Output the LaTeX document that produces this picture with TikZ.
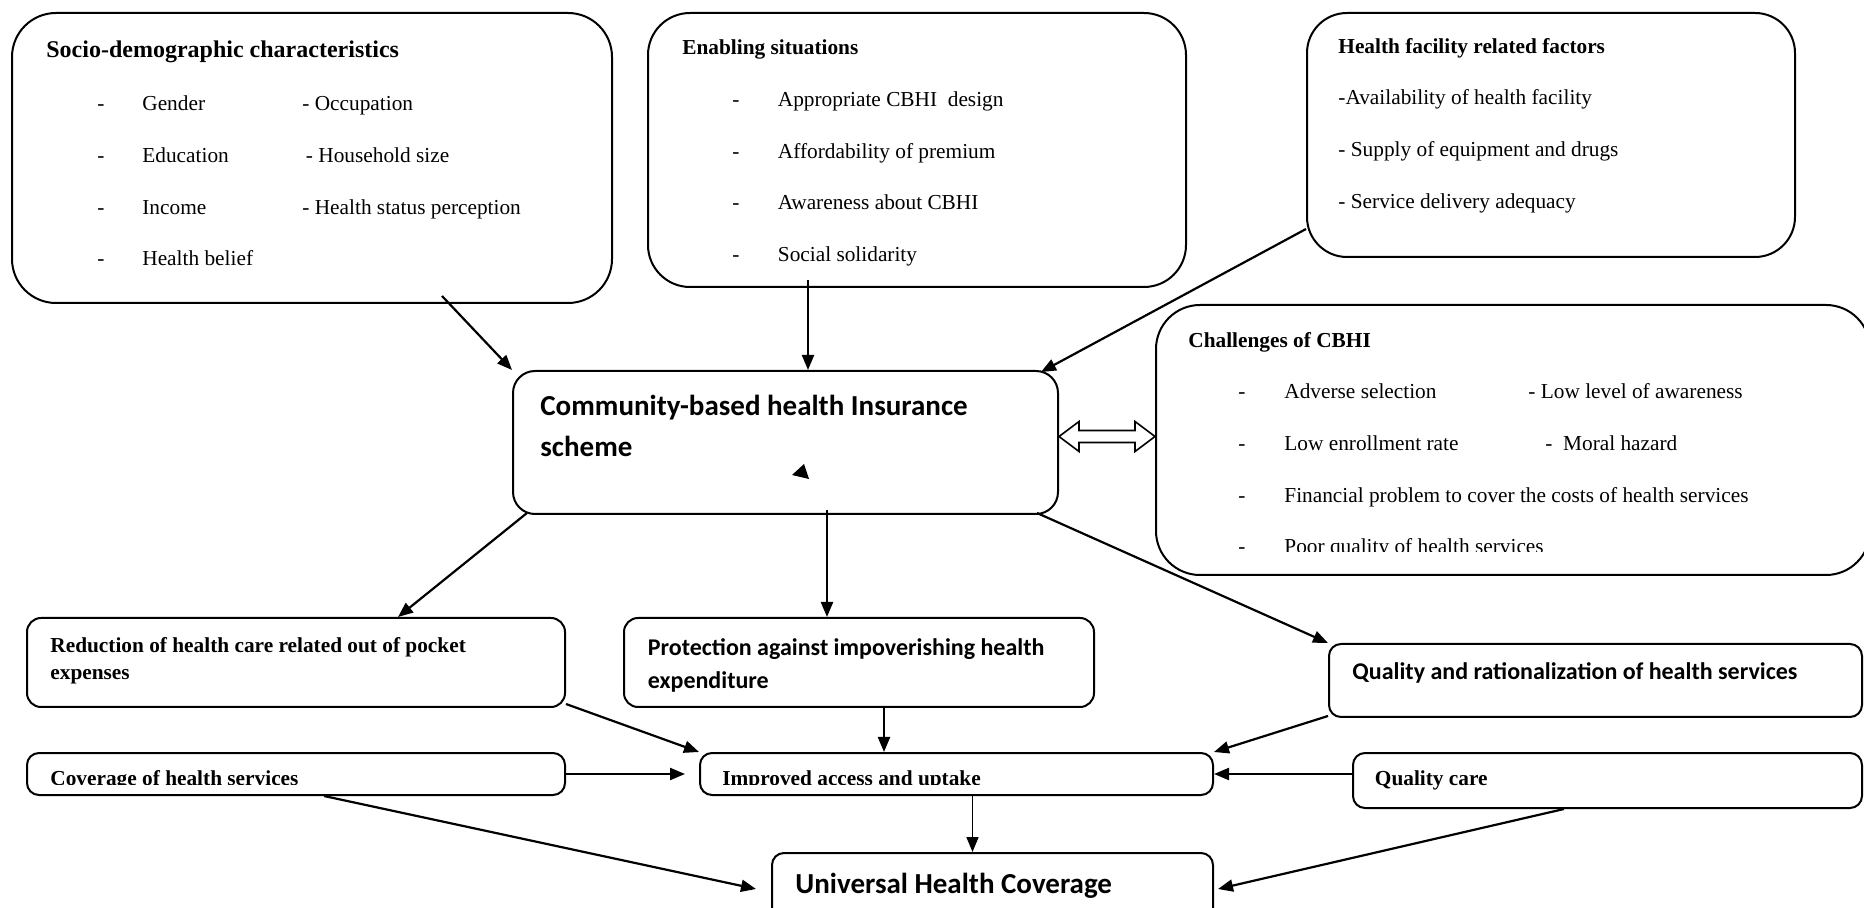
\documentclass[tikz,border=0pt]{standalone}
\usepackage{fontspec}
\setmainfont{Liberation Serif}
\newfontfamily\calibri{Carlito}
\usetikzlibrary{arrows.meta,calc,fit}

\newcommand{\boxlines}[1]{\begin{tabular}[t]{@{}l@{}}#1\end{tabular}}

\tikzset{
  bigbox/.style={draw, line width=1pt, rounded corners=21pt, inner sep=0pt},
  smallbox/.style={draw, line width=1pt, rounded corners=6pt, inner sep=0pt},
  txt/.style={anchor=base west, inner sep=0pt, font=\fontsize{10.66}{25.8}\selectfont},
  head/.style={anchor=base west, inner sep=0pt, font=\fontsize{10.66}{13.5}\selectfont\bfseries},
  calib/.style={anchor=base west, inner sep=0pt, font=\calibri\bfseries\fontsize{12}{16.5}\selectfont},
  arr/.style={-{Triangle[length=7.5pt,width=6pt]}, line width=1.1pt},
  thinarr/.style={arr, line width=0.8pt},
}

\begin{document}
\begin{tikzpicture}[x=0.5pt, y=-0.5pt]
    \useasboundingbox (0,0) rectangle (1864,908);

    % Top boxes
    \node[bigbox, rounded corners=22pt, fit={(12,13) (612,303)}] (socio) {};
    \node[bigbox, fit={(648,13) (1186,287)}] (enab) {};
    \node[bigbox, rounded corners=20pt, fit={(1307,13) (1795,257)}] (hfac) {};

    \node[head, font=\fontsize{12}{14}\selectfont\bfseries] (socioH) at (46,58) {Socio-demographic characteristics};
    \node[txt] (socioL) at (97,111) {\begin{tabular}[t]{@{}p{22.5pt}@{}p{80pt}@{}l@{}}
        - & Gender & - Occupation\\
        - & Education & \,- Household size\\
        - & Income & - Health status perception\\
        - & Health belief &
    \end{tabular}};

    \node[head] (enabH) at (682,55) {Enabling situations};
    \node[txt] (enabL) at (732,106.5) {\begin{tabular}[t]{@{}p{22.75pt}@{}l@{}}
        - & Appropriate CBHI~ design\\
        - & Affordability of premium\\
        - & Awareness about CBHI\\
        - & Social solidarity
    \end{tabular}};

    \node[head] (hfacH) at (1338,54) {Health facility related factors};
    \node[txt] (hfacL) at (1338,105) {\boxlines{-Availability of health facility\\
        - Supply of equipment and drugs\\
        - Service delivery adequacy}};

    % Middle row
    \node[bigbox, rounded corners=11pt, fit={(513,371) (1058,514)}] (cbhi) {};
    \node[bigbox, rounded corners=22pt, fit={(1156,305) (1870,575)}] (chal) {};

    \node[calib, font=\calibri\bfseries\fontsize{14.5}{20.5}\selectfont] (cbhiT) at (540,416)
        {\boxlines{Community-based health Insurance\\scheme}};
    \fill (792,475) -- (804,464) -- (809,479) -- cycle;

    \node[head] (chalH) at (1188,348) {Challenges of CBHI};
    \begin{scope}
        \clip (1150,300) rectangle (1870,552);
        \node[txt] (chalL) at (1238,399) {\begin{tabular}[t]{@{}p{23pt}@{}p{122pt}@{}l@{}}
            - & Adverse selection & - Low level of awareness\\
            - & Low enrollment rate & \hspace{8.5pt}-~~Moral hazard\\
            - & \multicolumn{2}{@{}l@{}}{Financial problem to cover the costs of health services}\\
            - & \multicolumn{2}{@{}l@{}}{Poor quality of health services}
        \end{tabular}};
    \end{scope}

    % double arrow between scheme and challenges
    \coordinate (dl) at ($(cbhi.east)+(0,-6)$);
    \coordinate (dr) at (chal.west |- dl);
    \draw[line width=0.8pt] (dl) -- ++(20,-15) -- ++(0,9) -- ($(dr)+(-20,-6)$) -- ++(0,-9)
        -- (dr) -- ++(-20,15) -- ++(0,-9) -- ($(dl)+(20,6)$) -- ++(0,9) -- cycle;

    % Outcome boxes
    \node[smallbox, rounded corners=7pt, fit={(27,618) (565,707)}] (red) {};
    \node[smallbox, rounded corners=7pt, fit={(624,618) (1094,707)}] (prot) {};
    \node[smallbox, fit={(1329,644) (1862,717)}] (qr) {};
    \node[smallbox, fit={(27,753) (565,795)}] (cov) {};
    \node[smallbox, fit={(700,753) (1213,795)}] (imp) {};
    \node[smallbox, fit={(1353,753) (1862,808)}] (qc) {};
    \node[smallbox, fit={(772,853) (1213,925)}] (uhc) {};

    \node[head] (redT) at (50,653) {\boxlines{Reduction of health care related out of pocket\\expenses}};
    \node[calib] (protT) at (647.5,656) {\boxlines{Protection against impoverishing health\\expenditure}};
    \node[calib] (qrT) at (1352,680) {Quality and rationalization of health services};
    \begin{scope}
        \clip (0,740) rectangle (1300,784);
        \node[head] (covT) at (50,785) {Coverage of health services};
        \node[head] (impT) at (722,785) {Improved access and uptake};
    \end{scope}
    \node[head] (qcT) at (1374.5,785) {Quality care};
    \node[calib, font=\calibri\bfseries\fontsize{14.5}{17}\selectfont] (uhcT) at (795,893) {Universal Health Coverage};

    % Arrows into the scheme
    \draw[arr] ($(socio.south)+(130,-8)$) -- (cbhi.north west);
    \coordinate (e1) at ($(enab.south)+(-109,-8)$);
    \draw[arr] (e1) -- (e1 |- cbhi.north);
    \draw[arr] ($(hfac.south west)+(0,-29)$) -- ($(cbhi.north east)+(-18,2)$);

    % Arrows out of the scheme
    \draw[arr] ($(cbhi.south west)+(15,-2)$) -- ($(red.north west)+(372,0)$);
    \coordinate (c1) at ($(cbhi.south)+(41.5,-5)$);
    \draw[arr] (c1) -- (c1 |- prot.north);
    \draw[arr] ($(cbhi.south east)+(-22,-2)$) -- (qr.north west);

    % Towards improved access
    \draw[arr] ($(red.south east)+(0,-4)$) -- (imp.north west);
    \coordinate (p1) at ($(prot.south)+(25,0)$);
    \draw[arr] (p1) -- (p1 |- imp.north);
    \draw[arr] ($(qr.south west)+(0,-2)$) -- (imp.north east);
    \draw[arr] (cov.east) -- ($(imp.west)+(-14,0)$);
    \draw[arr] (qc.west |- imp.east) -- (imp.east);

    % Towards universal coverage
    \coordinate (i1) at ($(imp.south)+(16,0)$);
    \draw[thinarr] (i1) -- (i1 |- uhc.north);
    \draw[arr] ($(cov.south)+(28,0)$) -- ($(uhc.west)+(-15,0)$);
    \draw[arr] ($(qc.south)+(-43.5,0)$) -- ($(uhc.east)+(4,0)$);
\end{tikzpicture}
\end{document}
